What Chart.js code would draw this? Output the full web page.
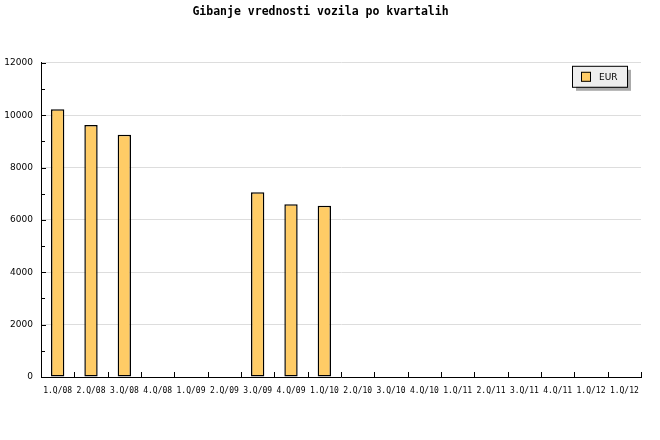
<!DOCTYPE html>
<html>
<head>
<meta charset="utf-8">
<script src="https://cdn.jsdelivr.net/npm/chart.js@4.4.0/dist/chart.umd.min.js"></script>
<style>
  body { margin: 0; background: #fff; }
  canvas { display: block; }
</style>
</head>
<body>
<canvas id="chart1" width="660" height="440"></canvas>
<script>

var naslov = "Gibanje vrednosti vozila po kvartalih";

var kvartali = ['1.Q/08', '2.Q/08', '3.Q/08', '4.Q/08', '1.Q/09', '2.Q/09',
                '3.Q/09', '4.Q/09', '1.Q/10', '2.Q/10', '3.Q/10', '4.Q/10',
                '1.Q/11', '2.Q/11', '3.Q/11', '4.Q/11', '1.Q/12', '1.Q/12'];

var vrednosti = [10230, 9620, 9250, null, null, null,
                 7060, 6600, 6540, null, null, null,
                 null, null, null, null, null, null];

var oznaka = "EUR";

var yMin = 0;
var yMax = 12000;
var yKorak = 2000;
var yMaliKorak = 1000;


// tick marks drawn inward, plus the boxed legend with shadow
var oznakePlugin = {
  id: 'oznake',
  afterDraw: function(chart) {
    var ctx = chart.ctx;
    var x = chart.scales.x;
    var y = chart.scales.y;
    var area = chart.chartArea;

    ctx.save();
    ctx.strokeStyle = '#000';
    ctx.lineWidth = 1;
    ctx.beginPath();
    for (var v = y.min; v <= y.max; v += yMaliKorak) {
      var py = Math.round(y.getPixelForValue(v)) + 0.5;
      var len = (v % yKorak == 0) ? 5 : 4;
      ctx.moveTo(area.left, py);
      ctx.lineTo(area.left + len, py);
    }
    for (var i = 1; i <= kvartali.length; i++) {
      var px = Math.round(x.getPixelForValue(i - 0.5)) + 0.5;
      ctx.moveTo(px, area.bottom);
      ctx.lineTo(px, area.bottom - 5);
    }
    ctx.stroke();

    // legenda
    var bx = area.right - 69;
    var by = area.top + 3;
    var bw = 55;
    var bh = 21;
    ctx.fillStyle = '#aaaaaa';
    ctx.fillRect(bx + 4, by + 4, bw, bh);
    ctx.fillStyle = '#eeeeee';
    ctx.fillRect(bx, by, bw, bh);
    ctx.strokeStyle = '#000';
    ctx.strokeRect(bx + 0.5, by + 0.5, bw, bh);

    var ds = chart.data.datasets[0];
    ctx.fillStyle = ds.backgroundColor;
    ctx.fillRect(bx + 9, by + 6, 10, 10);
    ctx.strokeRect(bx + 9.5, by + 6.5, 9, 9);

    ctx.fillStyle = '#000';
    ctx.font = '9px "DejaVu Sans"';
    ctx.textBaseline = 'middle';
    ctx.fillText(ds.label, bx + 27, by + 11.5);
    ctx.restore();
  }
};


const ctx1 = document.getElementById('chart1').getContext('2d');
const chart1 = new Chart(ctx1, {
  type: 'bar',
  data: {
    labels: kvartali,
    datasets: [
      {
        label: oznaka,
        data: vrednosti,
        backgroundColor: '#ffcc66',
        borderColor: '#000000',
        borderWidth: 1.5,
        borderSkipped: false,
        categoryPercentage: 1.0,
        barPercentage: 0.4
      }
    ]
  },
  options: {
    responsive: false,
    animation: false,
    layout: {
      padding: { left: 0, right: 19, top: 0, bottom: 0 }
    },
    plugins: {
      legend: { display: false },
      tooltip: { enabled: false },
      title: {
        display: true,
        text: naslov,
        color: '#000',
        font: { family: '"DejaVu Sans Mono"', size: 11.5, weight: 'bold' },
        padding: { top: 5, bottom: 44 }
      }
    },
    scales: {
      x: {
        grid: { display: false, drawTicks: false },
        border: { display: true, color: '#000' },
        ticks: {
          color: '#000',
          padding: 9,
          maxRotation: 0,
          autoSkip: false,
          font: { family: '"DejaVu Sans Mono"', size: 8 }
        },
        afterFit: function(scale) { scale.height = 63; }
      },
      y: {
        min: yMin,
        max: yMax,
        grid: { color: '#dddddd', drawTicks: false },
        border: { display: true, color: '#000' },
        ticks: {
          stepSize: yKorak,
          color: '#000',
          padding: 8,
          font: { family: '"DejaVu Sans"', size: 9 },
          callback: function(value) { return value + ''; }
        },
        afterFit: function(scale) { scale.width = 41; }
      }
    }
  },
  plugins: [oznakePlugin]
});

</script>
</body>
</html>
